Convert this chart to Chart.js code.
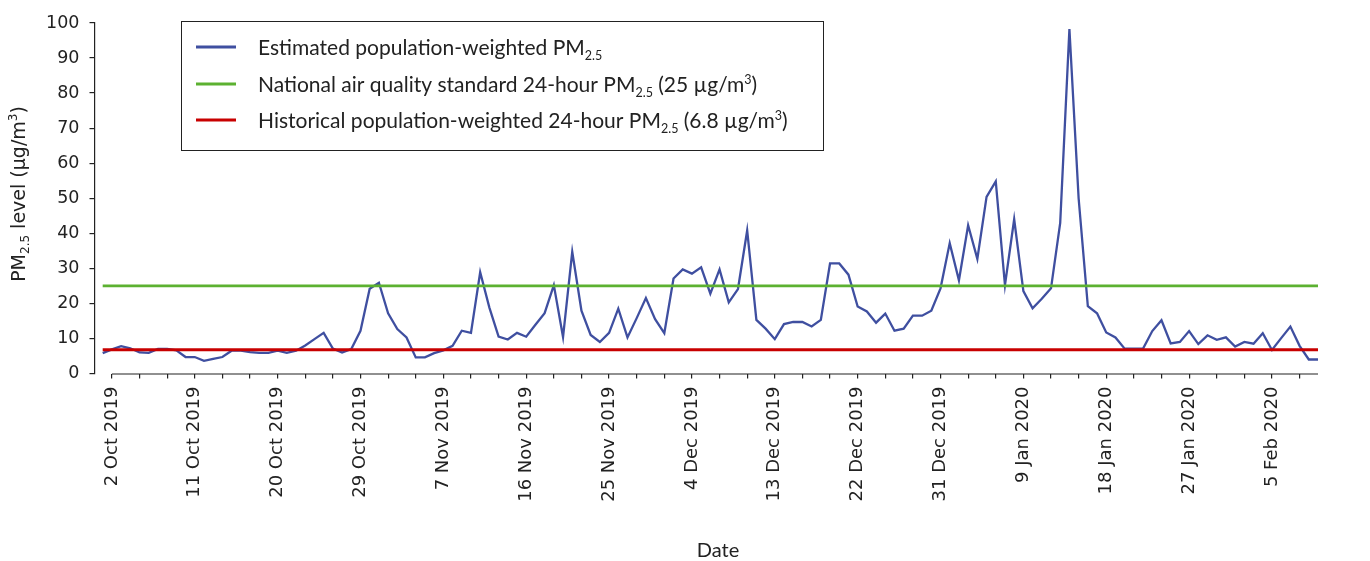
<!DOCTYPE html>
<html>
<head>
<meta charset="utf-8">
<script src="https://cdn.jsdelivr.net/npm/chart.js@4"></script>
<style>
  html, body { margin: 0; padding: 0; background: #ffffff; }
  #wrap { width: 1370px; height: 561px; }
</style>
</head>
<body>
<div id="wrap"><canvas id="c" width="1370" height="561"></canvas></div>
<script>
// ---- DATA ----
const startDate = "1 Oct 2019"; // first daily value (index 0)
const tickLabels = ["2 Oct 2019", "11 Oct 2019", "20 Oct 2019", "29 Oct 2019", "7 Nov 2019",
  "16 Nov 2019", "25 Nov 2019", "4 Dec 2019", "13 Dec 2019", "22 Dec 2019", "31 Dec 2019",
  "9 Jan 2020", "18 Jan 2020", "27 Jan 2020", "5 Feb 2020"];
const pm25 = [
  5.8, 6.9, 7.8, 7.2, 6.0, 5.9, 7.0, 7.0, 6.6, 4.7,
  4.7, 3.6, 4.2, 4.7, 6.5, 6.5, 6.1, 5.9, 5.9, 6.5,
  5.9, 6.5, 8.0, 9.8, 11.6, 7.1, 6.0, 7.0, 12.2, 24.2,
  25.9, 17.2, 12.7, 10.3, 4.6, 4.6, 5.8, 6.6, 7.9, 12.2,
  11.6, 28.9, 18.8, 10.5, 9.7, 11.6, 10.5, 13.9, 17.2, 25.2,
  10.4, 34.7, 17.9, 11.0, 9.0, 11.6, 18.5, 10.3, 15.8, 21.5,
  15.5, 11.5, 27.1, 29.7, 28.5, 30.3, 22.8, 29.7, 20.3, 24.1,
  40.8, 15.3, 12.8, 9.8, 14.1, 14.7, 14.7, 13.4, 15.3, 31.4,
  31.4, 28.2, 19.1, 17.7, 14.5, 17.1, 12.2, 12.8, 16.5, 16.5,
  17.9, 24.3, 37.2, 26.6, 42.3, 32.7, 50.4, 54.8, 25.2, 44.0,
  23.5, 18.6, 21.3, 24.3, 43.0, 98.3, 50.0, 19.2, 17.2, 11.7,
  10.3, 7.1, 7.1, 7.1, 12.1, 15.2, 8.6, 9.0, 12.1, 8.4,
  10.9, 9.6, 10.3, 7.7, 9.0, 8.5, 11.5, 6.7, 10.1, 13.4,
  7.9, 4.0, 4.0
];
const nationalStandard = 25;
const historicalLevel = 6.8;
const yTicks = [0, 10, 20, 30, 40, 50, 60, 70, 80, 90, 100];

// ---- derived tables ----
const lastIndex = pm25.length - 1;
const pmPoints = pm25.map((v, i) => ({ x: i, y: v }));
const stdPoints = [{ x: 0, y: nationalStandard }, { x: lastIndex, y: nationalStandard }];
const histPoints = [{ x: 0, y: historicalLevel }, { x: lastIndex, y: historicalLevel }];

const BLUE = '#3f4fa0', GREEN = '#5cb131', RED = '#c80000', INK = '#222222';
const TICKFONT = 'DejaVu Sans';
const TEXTFONT = 'Lato';

function drawRich(ctx, runs, x, y, align) {
  let total = 0;
  runs.forEach(r => { ctx.font = r.size + 'px ' + r.family; r.w = ctx.measureText(r.t).width; total += r.w; });
  let cx = align === 'center' ? x - total / 2 : x;
  runs.forEach(r => {
    ctx.font = r.size + 'px ' + r.family;
    ctx.fillText(r.t, cx, y + (r.dy || 0));
    cx += r.w;
  });
}

const decorations = {
  id: 'decorations',
  afterDraw(chart) {
    const ctx = chart.ctx;
    const xs = chart.scales.x, area = chart.chartArea;
    ctx.save();
    // x axis line from first tick to end
    ctx.strokeStyle = INK; ctx.lineWidth = 1.2;
    ctx.beginPath();
    ctx.moveTo(xs.getPixelForValue(1), area.bottom + 0.5);
    ctx.lineTo(area.right, area.bottom + 0.5);
    ctx.stroke();

    ctx.fillStyle = INK;
    ctx.textBaseline = 'alphabetic';
    // y axis title
    ctx.save();
    ctx.translate(18, 194);
    ctx.rotate(-Math.PI / 2);
    const F = TICKFONT;
    drawRich(ctx, [
      { t: 'PM', size: 19, family: F },
      { t: '2.5', size: 12, family: F, dy: 4 },
      { t: ' level (µg/m', size: 19, family: F },
      { t: '3', size: 12, family: F, dy: -8 },
      { t: ')', size: 19, family: F }
    ], 0, 7, 'center');
    ctx.restore();

    // x axis title
    ctx.font = '20px ' + TEXTFONT;
    ctx.textAlign = 'center';
    ctx.fillText('Date', 718, 557);
    ctx.textAlign = 'left';

    // legend
    ctx.strokeStyle = INK; ctx.lineWidth = 1;
    ctx.strokeRect(181.5, 21.5, 642, 129);
    const S = 21, s = 12.5;
    const rows = [
      { c: BLUE, y: 47, runs: [
        { t: 'Estimated population-weighted PM', size: S, family: TEXTFONT },
        { t: '2.5', size: s, family: TEXTFONT, dy: 5 }] },
      { c: GREEN, y: 84, runs: [
        { t: 'National air quality standard 24-hour PM', size: S, family: TEXTFONT },
        { t: '2.5', size: s, family: TEXTFONT, dy: 5 },
        { t: ' (25 µg/m', size: S, family: TEXTFONT },
        { t: '3', size: s, family: TEXTFONT, dy: -8 },
        { t: ')', size: S, family: TEXTFONT }] },
      { c: RED, y: 120, runs: [
        { t: 'Historical population-weighted 24-hour PM', size: S, family: TEXTFONT },
        { t: '2.5', size: s, family: TEXTFONT, dy: 5 },
        { t: ' (6.8 µg/m', size: S, family: TEXTFONT },
        { t: '3', size: s, family: TEXTFONT, dy: -8 },
        { t: ')', size: S, family: TEXTFONT }] }
    ];
    rows.forEach(r => {
      ctx.strokeStyle = r.c; ctx.lineWidth = 3.2;
      ctx.beginPath(); ctx.moveTo(196, r.y); ctx.lineTo(236, r.y); ctx.stroke();
      ctx.fillStyle = INK;
      drawRich(ctx, r.runs, 258, r.y + 7.5, 'left');
    });
    ctx.restore();
  }
};

new Chart(document.getElementById('c'), {
  type: 'line',
  data: {
    datasets: [
      { label: 'Historical population-weighted 24-hour PM2.5 (6.8 µg/m³)', data: histPoints,
        borderColor: RED, borderWidth: 3, pointRadius: 0 },
      { label: 'National air quality standard 24-hour PM2.5 (25 µg/m³)', data: stdPoints,
        borderColor: GREEN, borderWidth: 2.6, pointRadius: 0 },
      { label: 'Estimated population-weighted PM2.5', data: pmPoints,
        borderColor: BLUE, borderWidth: 2.3, pointRadius: 0, tension: 0 }
    ]
  },
  options: {
    responsive: false,
    animation: false,
    devicePixelRatio: 1,
    layout: { padding: { left: 0, right: 52, top: 23, bottom: 0 } },
    plugins: { legend: { display: false }, tooltip: { enabled: false } },
    elements: { line: { tension: 0 } },
    scales: {
      x: {
        type: 'linear',
        min: -0.89,
        max: lastIndex,
        afterBuildTicks(scale) {
          const t = [];
          for (let v = 1; v <= lastIndex - 2; v += 3) t.push({ value: v });
          scale.ticks = t;
        },
        afterFit(scale) { scale.height = 561 - 373.5; },
        grid: { display: true, drawOnChartArea: false, drawTicks: true, tickLength: 5, color: INK, lineWidth: 1.2 },
        border: { display: false },
        ticks: {
          autoSkip: false, maxRotation: 90, minRotation: 90, padding: 8,
          color: INK, font: { family: TICKFONT, size: 18 },
          callback(value) {
            const k = value - 1;
            return (k % 9 === 0) ? tickLabels[k / 9] : '';
          }
        }
      },
      y: {
        min: 0, max: 100,
        afterBuildTicks(scale) { scale.ticks = yTicks.map(v => ({ value: v })); },
        afterFit(scale) { scale.width = 94.5; },
        grid: { display: true, drawOnChartArea: false, drawTicks: true, tickLength: 5, color: INK, lineWidth: 1.2 },
        border: { display: true, color: INK, width: 1.2 },
        ticks: { color: INK, padding: 10, font: { family: TICKFONT, size: 17.5 } }
      }
    }
  },
  plugins: [decorations]
});
</script>
</body>
</html>
